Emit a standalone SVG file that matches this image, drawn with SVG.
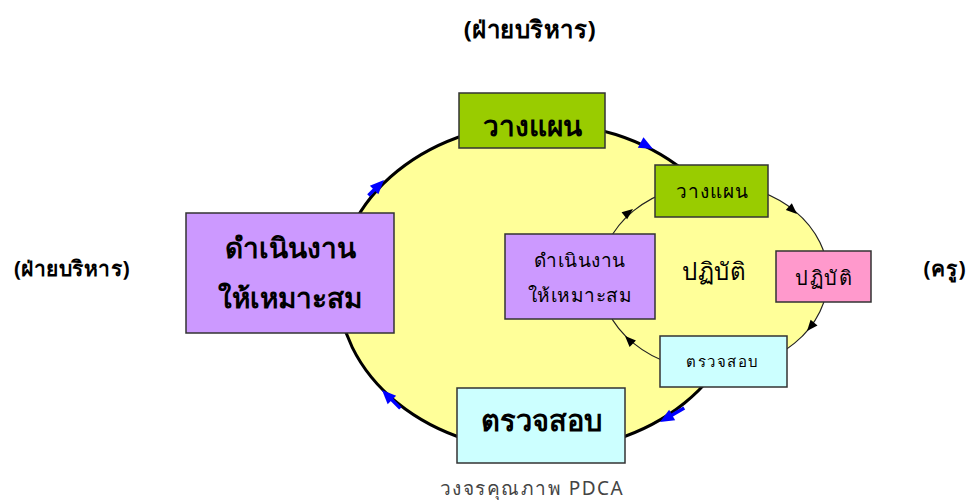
<svg xmlns="http://www.w3.org/2000/svg" xmlns:xlink="http://www.w3.org/1999/xlink" width="968" height="500" viewBox="0 0 968 500">
<defs>
<style>
.t{font-family:Tahoma,"Noto Sans","DejaVu Sans","Liberation Sans",sans-serif;fill:#000;text-anchor:middle}
.b{font-weight:bold}
.box{stroke:#333;stroke-width:1.5}
.blue{stroke:#0000FF;stroke-width:3.5;fill:none}
</style>
<path id="ah" d="M0,0 L-11,-4.5 L-11,4.5 Z" fill="#000"/>
<path id="bh" d="M0,0 L-14,-6 L-14,6 Z" fill="#0000FF"/>
</defs>
<rect width="968" height="500" fill="#fff"/>

<g id="connectors">
<ellipse cx="541" cy="287" rx="203" ry="164" fill="#FFFF99" stroke="#000" stroke-width="3"/>
<ellipse cx="714" cy="277" rx="114" ry="93.5" fill="#FFFF99" stroke="#222" stroke-width="1.2"/>
<use xlink:href="#ah" transform="translate(633,209) rotate(-38)"/>
<use xlink:href="#ah" transform="translate(797,214) rotate(42)"/>
<use xlink:href="#ah" transform="translate(807,331) rotate(130)"/>
<use xlink:href="#ah" transform="translate(625,336) rotate(-135)"/>
<g transform="translate(384,180) rotate(-45)"><line x1="-22" y1="0" x2="-10" y2="0" class="blue"/><use xlink:href="#bh"/></g>
<g transform="translate(653,149) rotate(28)"><use xlink:href="#bh"/></g>
<g transform="translate(660,422) rotate(150)"><line x1="-28" y1="0" x2="-10" y2="0" class="blue"/><use xlink:href="#bh"/></g>
<g transform="translate(382,390) rotate(-135)"><line x1="-26" y1="0" x2="-10" y2="0" class="blue"/><use xlink:href="#bh"/></g>
</g>

<g id="title-top"><text x="530" y="38" class="t b" font-size="24" letter-spacing="0.5">(ฝ่ายบริหาร)</text></g>
<g id="title-left"><text x="72" y="276" class="t b" font-size="21" letter-spacing="0.5">(ฝ่ายบริหาร)</text></g>
<g id="title-right"><text x="945" y="276" class="t b" font-size="21" letter-spacing="1">(ครู)</text></g>

<g id="plan-big"><rect x="459" y="93" width="146" height="55" fill="#99CC00" class="box"/><text x="532" y="136" class="t b" font-size="28">วางแผน</text></g>
<g id="act-big"><rect x="186" y="213" width="208" height="120" fill="#CC99FF" class="box"/><text x="290" y="258" class="t b" font-size="28">ดำเนินงาน</text><text x="290" y="308" class="t b" font-size="28">ให้เหมาะสม</text></g>
<g id="check-big"><rect x="457" y="388" width="168" height="75" fill="#CCFFFF" class="box"/><text x="541" y="431" class="t b" font-size="29">ตรวจสอบ</text></g>

<g id="plan-small"><rect x="655" y="165" width="113" height="52" fill="#99CC00" class="box"/><text x="712" y="198" class="t" font-size="19" letter-spacing="1">วางแผน</text></g>
<g id="do-small"><rect x="776" y="251" width="95" height="51" fill="#FF99CC" class="box"/><text x="824" y="285" class="t" font-size="20" letter-spacing="1.5">ปฏิบัติ</text></g>
<g id="check-small"><rect x="660" y="336" width="127" height="51" fill="#CCFFFF" class="box"/><text x="723" y="367" class="t" font-size="15" letter-spacing="1.5">ตรวจสอบ</text></g>
<g id="act-small"><rect x="505" y="234" width="150" height="85" fill="#CC99FF" class="box"/><text x="580" y="267" class="t" font-size="19" letter-spacing="0.5">ดำเนินงาน</text><text x="580" y="302" class="t" font-size="19" letter-spacing="0.5">ให้เหมาะสม</text></g>
<g id="do-label"><text x="714" y="280" class="t" font-size="24" letter-spacing="0.5">ปฏิบัติ</text></g>

<g id="caption"><text x="532" y="495" class="t" font-size="19" letter-spacing="1.5" style="fill:#444">วงจรคุณภาพ PDCA</text></g>
</svg>
